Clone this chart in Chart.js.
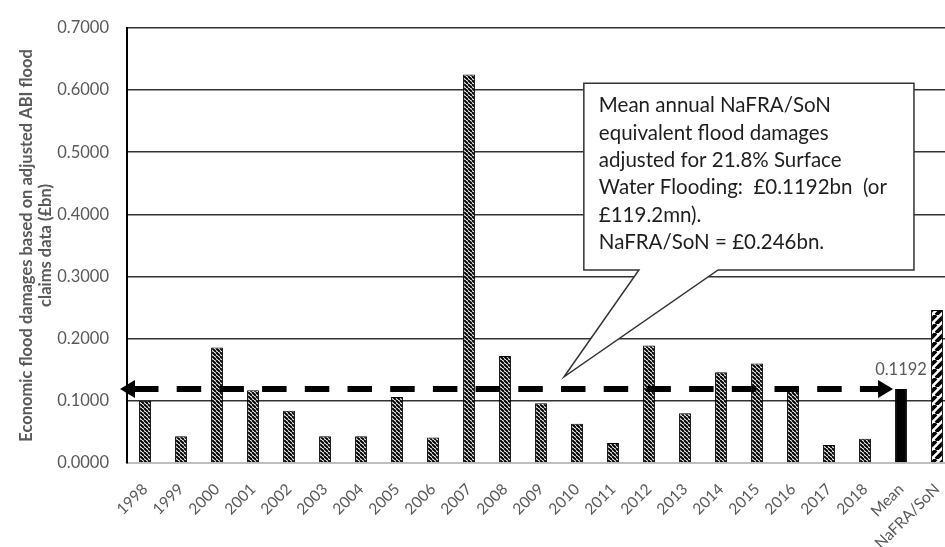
<!DOCTYPE html>
<html>
<head>
<meta charset="utf-8">
<title>Economic flood damages based on adjusted ABI flood claims data</title>
<script src="https://cdn.jsdelivr.net/npm/chart.js@4/dist/chart.umd.min.js"></script>
<style>
  html, body { margin: 0; padding: 0; background: #fff; overflow: hidden; }
  #wrap { width: 960px; height: 547px; }
</style>
</head>
<body>
<div id="wrap"><canvas id="chart" width="960" height="547"></canvas></div>
<script>
// ---- data -------------------------------------------------------------
const years = ['1998','1999','2000','2001','2002','2003','2004','2005','2006','2007',
               '2008','2009','2010','2011','2012','2013','2014','2015','2016','2017','2018'];
const annualDamages = [0.100, 0.043, 0.186, 0.117, 0.084, 0.043, 0.043, 0.106, 0.041, 0.625,
                       0.172, 0.096, 0.063, 0.032, 0.189, 0.080, 0.146, 0.160, 0.116, 0.029, 0.039];
const meanLabel = 'Mean';
const meanDamage = 0.1192;
const nafraLabel = 'NaFRA/SoN';
const nafraDamage = 0.246;
const yTicks = [0, 0.1, 0.2, 0.3, 0.4, 0.5, 0.6, 0.7];
const axisTitle = ['Economic flood damages based on adjusted ABI flood', 'claims data (£bn)'];
const calloutLines = [
  'Mean annual NaFRA/SoN',
  'equivalent flood damages',
  'adjusted for 21.8% Surface',
  'Water Flooding:  £0.1192bn  (or',
  '£119.2mn).',
  'NaFRA/SoN = £0.246bn.'
];

const categories = [...years, meanLabel, nafraLabel];
const values = [...annualDamages, meanDamage, nafraDamage];
const meanIndex = years.length;

// ---- hatch fills ------------------------------------------------------
function stripes(step, width, dir) {
  const c = document.createElement('canvas');
  c.width = c.height = step;
  const g = c.getContext('2d');
  g.fillStyle = '#fff';
  g.fillRect(0, 0, step, step);
  g.strokeStyle = '#000';
  g.lineWidth = width;
  g.beginPath();
  for (let k = -1; k <= 1; k++) {
    if (dir === 'down') { g.moveTo(k * step, 0); g.lineTo(k * step + step, step); }
    else { g.moveTo(k * step, step); g.lineTo(k * step + step, 0); }
  }
  g.stroke();
  return g.createPattern(c, 'repeat');
}
const narrowDown = stripes(4, 2, 'down');
const wideUp = stripes(9, 3.8, 'up');
const fills = categories.map((c, i) => i < years.length ? narrowDown : (c === meanLabel ? '#000' : wideUp));

const FONT = 'Lato, "Liberation Sans", sans-serif';
const GREY = '#595959';

// ---- annotations: mean arrow, value label, callout --------------------
// callout geometry in (category index, value) space
const callout = { x0: 12.19, x1: 21.36, yTop: 0.611, yBottom: 0.3105,
                  baseA: 13.72, baseB: 15.92, tipX: 11.64, tipY: 0.1386 };

const annotations = {
  id: 'annotations',
  afterDatasetsDraw(chart) {
    const { ctx, chartArea, scales: { x, y } } = chart;
    const bar = chart.getDatasetMeta(0).data[meanIndex];
    const yMean = y.getPixelForValue(meanDamage);

    // dashed double-headed arrow at the mean value
    const tipL = chartArea.left - 7;
    const tipR = bar.x - bar.width / 2 - 2;
    const head = 15, half = 9;
    ctx.save();
    ctx.strokeStyle = '#000';
    ctx.fillStyle = '#000';
    ctx.lineWidth = 6;
    ctx.setLineDash([24.5, 18.2]);
    ctx.beginPath();
    ctx.moveTo(tipL + head - 1, yMean);
    ctx.lineTo(tipR - head + 1, yMean);
    ctx.stroke();
    ctx.setLineDash([]);
    ctx.beginPath();
    ctx.moveTo(tipL, yMean);
    ctx.lineTo(tipL + head, yMean - half);
    ctx.lineTo(tipL + head, yMean + half);
    ctx.closePath();
    ctx.fill();
    ctx.beginPath();
    ctx.moveTo(tipR, yMean);
    ctx.lineTo(tipR - head, yMean - half);
    ctx.lineTo(tipR - head, yMean + half);
    ctx.closePath();
    ctx.fill();

    // value label over the mean bar
    ctx.font = '16.5px ' + FONT;
    ctx.fillStyle = GREY;
    ctx.textAlign = 'center';
    ctx.textBaseline = 'alphabetic';
    ctx.fillText(meanDamage.toFixed(4), bar.x, bar.y - 14);

    // speech-bubble callout
    const L = x.getPixelForValue(callout.x0), R = x.getPixelForValue(callout.x1);
    const T = y.getPixelForValue(callout.yTop), B = y.getPixelForValue(callout.yBottom);
    const bA = x.getPixelForValue(callout.baseA), bB = x.getPixelForValue(callout.baseB);
    const tx = x.getPixelForValue(callout.tipX), ty = y.getPixelForValue(callout.tipY);
    ctx.beginPath();
    ctx.moveTo(L, T);
    ctx.lineTo(R, T);
    ctx.lineTo(R, B);
    ctx.lineTo(bB, B);
    ctx.lineTo(tx, ty);
    ctx.lineTo(bA, B);
    ctx.lineTo(L, B);
    ctx.closePath();
    ctx.fillStyle = '#fff';
    ctx.fill();
    ctx.strokeStyle = '#333';
    ctx.lineWidth = 1.5;
    ctx.stroke();

    ctx.font = '20.5px ' + FONT;
    ctx.fillStyle = '#1e1e1e';
    ctx.textAlign = 'left';
    calloutLines.forEach((line, i) => ctx.fillText(line, L + 15, T + 29 + i * 27.4));
    ctx.restore();
  }
};

new Chart(document.getElementById('chart'), {
  type: 'bar',
  data: {
    labels: categories,
    datasets: [{
      data: values,
      backgroundColor: fills,
      borderColor: '#000',
      borderWidth: 1,
      categoryPercentage: 1,
      barPercentage: 0.33
    }]
  },
  options: {
    responsive: false,
    animation: false,
    devicePixelRatio: 1,
    layout: { padding: { top: 17, right: 5, left: 0, bottom: 0 } },
    plugins: { legend: { display: false }, tooltip: { enabled: false } },
    scales: {
      x: {
        afterFit(scale) { scale.height = 84; },
        grid: { display: false },
        border: { display: true, color: '#bfbfbf', width: 1 },
        ticks: {
          color: GREY,
          font: { family: FONT, size: 15.5 },
          minRotation: 45, maxRotation: 45,
          autoSkip: false, padding: 9
        }
      },
      y: {
        min: 0, max: 0.7,
        afterFit(scale) { scale.width = 127; },
        afterBuildTicks(scale) { scale.ticks = yTicks.map(v => ({ value: v })); },
        grid: {
          drawTicks: false,
          color: c => (c.tick && c.tick.value === 0) ? '#bfbfbf' : '#333',
          lineWidth: 1.5
        },
        border: { display: true, color: '#000', width: 2 },
        ticks: {
          color: GREY,
          font: { family: FONT, size: 16.5 },
          padding: 18,
          callback: v => Number(v).toFixed(4)
        },
        title: {
          display: true,
          text: axisTitle,
          color: GREY,
          font: { family: FONT, size: 16.5, weight: 'bold', lineHeight: 1.1 },
          padding: { top: 18, bottom: 6 }
        }
      }
    }
  },
  plugins: [annotations]
});
</script>
</body>
</html>
